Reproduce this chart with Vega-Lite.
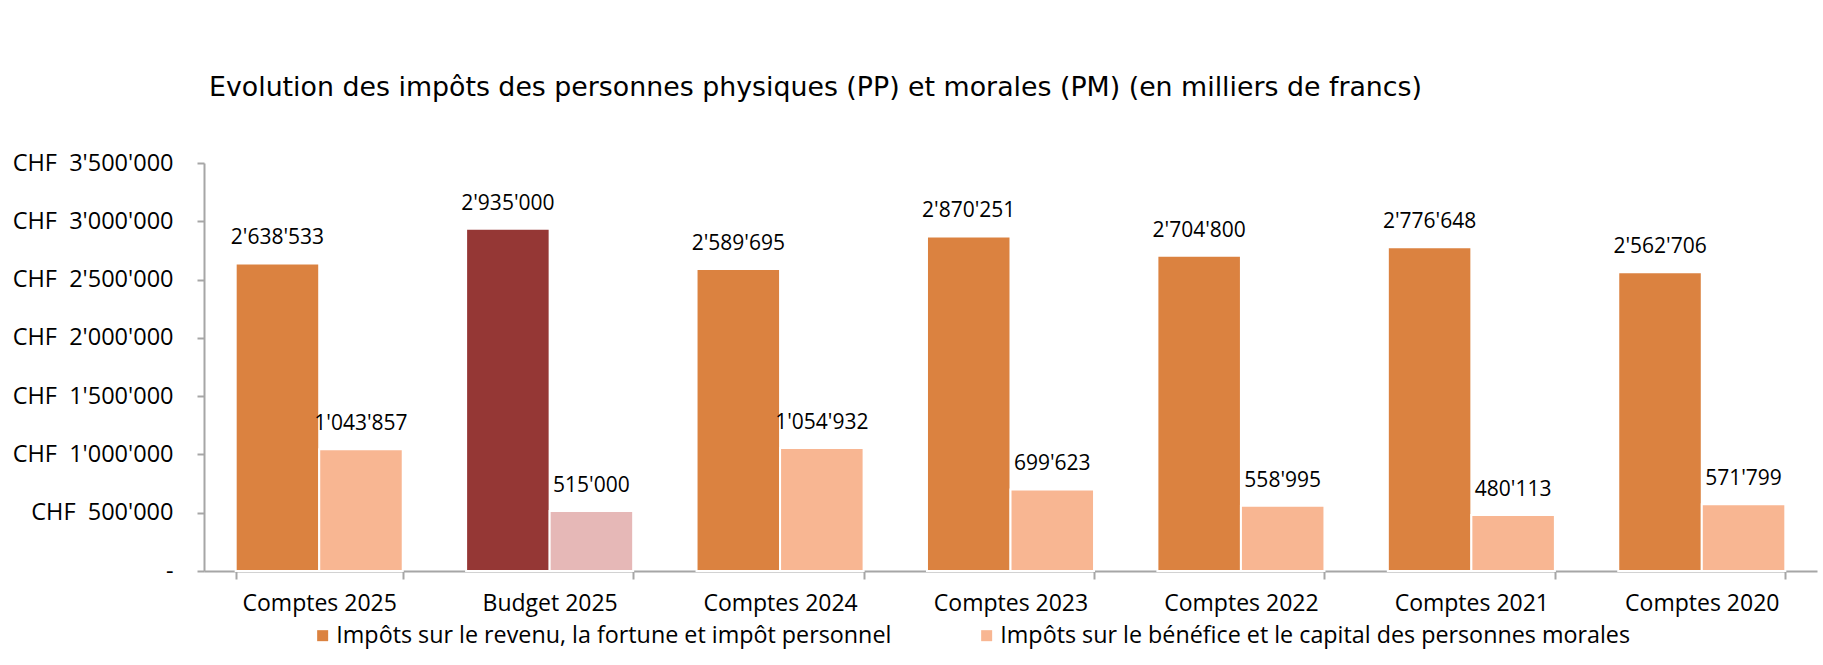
{
  "$schema": "https://vega.github.io/schema/vega-lite/v6.json",
  "autosize": {"type": "none"},
  "width": 1613,
  "height": 408,
  "padding": {"left": 204, "top": 163, "right": 6, "bottom": 94},
  "background": "white",
  "title": {
    "text": "Evolution des impôts des personnes physiques (PP) et morales (PM) (en milliers de francs)",
    "anchor": "start",
    "frame": "group",
    "font": "DejaVu Sans",
    "fontSize": 26.8,
    "fontWeight": "normal",
    "color": "#000000",
    "baseline": "alphabetic",
    "offset": 28,
    "dx": 5
  },
  "data": {
    "values": [
      {"periode": "Comptes 2025", "impot": "Impôts sur le revenu, la fortune et impôt personnel", "montant": 2638533},
      {"periode": "Comptes 2025", "impot": "Impôts sur le bénéfice et le capital des personnes morales", "montant": 1043857},
      {"periode": "Budget 2025", "impot": "Impôts sur le revenu, la fortune et impôt personnel", "montant": 2935000},
      {"periode": "Budget 2025", "impot": "Impôts sur le bénéfice et le capital des personnes morales", "montant": 515000},
      {"periode": "Comptes 2024", "impot": "Impôts sur le revenu, la fortune et impôt personnel", "montant": 2589695},
      {"periode": "Comptes 2024", "impot": "Impôts sur le bénéfice et le capital des personnes morales", "montant": 1054932},
      {"periode": "Comptes 2023", "impot": "Impôts sur le revenu, la fortune et impôt personnel", "montant": 2870251},
      {"periode": "Comptes 2023", "impot": "Impôts sur le bénéfice et le capital des personnes morales", "montant": 699623},
      {"periode": "Comptes 2022", "impot": "Impôts sur le revenu, la fortune et impôt personnel", "montant": 2704800},
      {"periode": "Comptes 2022", "impot": "Impôts sur le bénéfice et le capital des personnes morales", "montant": 558995},
      {"periode": "Comptes 2021", "impot": "Impôts sur le revenu, la fortune et impôt personnel", "montant": 2776648},
      {"periode": "Comptes 2021", "impot": "Impôts sur le bénéfice et le capital des personnes morales", "montant": 480113},
      {"periode": "Comptes 2020", "impot": "Impôts sur le revenu, la fortune et impôt personnel", "montant": 2562706},
      {"periode": "Comptes 2020", "impot": "Impôts sur le bénéfice et le capital des personnes morales", "montant": 571799}
    ]
  },
  "encoding": {
    "x": {
      "field": "periode",
      "type": "nominal",
      "sort": null,
      "scale": {"paddingInner": 0.275, "paddingOuter": 0.1375},
      "axis": {
        "title": null,
        "labelAngle": 0,
        "labelFont": "Open Sans",
        "labelFontSize": 23,
        "labelColor": "#000000",
        "labelPadding": 13,
        "tickSize": 8,
        "tickBand": "extent",
        "tickColor": "#A6A6A6",
        "tickWidth": 2,
        "domainColor": "#A6A6A6",
        "domainWidth": 2
      }
    },
    "xOffset": {
      "field": "impot",
      "type": "nominal",
      "sort": null,
      "scale": {
        "domain": ["Impôts sur le revenu, la fortune et impôt personnel", "Impôts sur le bénéfice et le capital des personnes morales"],
        "paddingInner": 0,
        "paddingOuter": 0
      }
    },
    "y": {
      "field": "montant",
      "type": "quantitative",
      "scale": {"domain": [0, 3500000], "nice": false},
      "axis": {
        "title": null,
        "values": [0, 500000, 1000000, 1500000, 2000000, 2500000, 3000000, 3500000],
        "format": ",d",
        "labelExpr": "datum.value == 0 ? '-' : 'CHF\u00a0\u00a0' + datum.label",
        "labelFont": "Open Sans",
        "labelFontSize": 23.5,
        "labelColor": "#000000",
        "labelPadding": 24,
        "tickSize": 7,
        "tickColor": "#A6A6A6",
        "tickWidth": 2,
        "domainColor": "#A6A6A6",
        "domainWidth": 2,
        "grid": false
      }
    }
  },
  "layer": [
    {
      "mark": {"type": "bar", "stroke": "#FFFFFF", "strokeWidth": 2},
      "encoding": {
        "color": {
          "field": "impot",
          "type": "nominal",
          "scale": {
            "domain": ["Impôts sur le revenu, la fortune et impôt personnel", "Impôts sur le bénéfice et le capital des personnes morales"],
            "range": ["#DB8240", "#F8B692"]
          },
          "condition": [
            {"test": "datum.periode === 'Budget 2025' && datum.impot === 'Impôts sur le revenu, la fortune et impôt personnel'", "value": "#953735"},
            {"test": "datum.periode === 'Budget 2025' && datum.impot === 'Impôts sur le bénéfice et le capital des personnes morales'", "value": "#E6B8B7"}
          ],
          "legend": {
            "title": null,
            "orient": "none",
            "legendX": 107,
            "legendY": 461,
            "direction": "horizontal",
            "symbolType": "square",
            "symbolSize": 121,
            "symbolStrokeWidth": 0,
            "labelFont": "Open Sans",
            "labelFontSize": 23.3,
            "labelColor": "#000000",
            "labelOffset": 2,
            "columnPadding": 83,
            "labelLimit": 1000
          }
        }
      }
    },
    {
      "mark": {"type": "text", "baseline": "alphabetic", "dy": -19, "font": "Open Sans", "fontSize": 21, "color": "#000000"},
      "encoding": {
        "text": {"field": "montant", "type": "quantitative", "format": ",d"}
      }
    }
  ],
  "config": {
    "view": {"stroke": null},
    "locale": {
      "number": {"decimal": ".", "thousands": "'", "grouping": [3], "currency": ["CHF ", ""]}
    }
  }
}
